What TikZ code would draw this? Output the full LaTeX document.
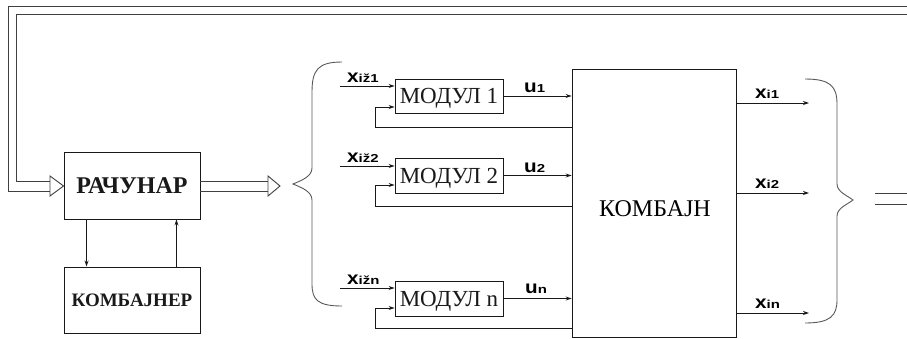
\documentclass[tikz,border=0pt]{standalone}
\usepackage{fontspec}
\setmainfont{Liberation Serif}
\newfontfamily\labfont{Liberation Sans}
\usetikzlibrary{arrows.meta}

% signal label: bold letter with a smaller, wide index on the same baseline
\newcommand\siglab[2]{{\labfont\bfseries\fontsize{18}{18}\selectfont\scalebox{1.15}[1]{#1}\scalebox{1.3}[1]{\fontsize{11.5}{11.5}\selectfont #2}}}

\begin{document}
\begin{tikzpicture}[x=1pt,y=-1pt,
  ln/.style={line width=0.9pt, black!90},
  blk/.style={draw, ln, inner sep=0pt},
  arr/.style={ln, -{Stealth[length=6pt,width=4pt]}},
  bus/.style={line width=0.9pt, draw=black!75},
  head/.style={line width=0.9pt, draw=black!75, fill=white},
  brace/.style={line width=0.9pt, draw=black!65},
  lab/.style={inner sep=0pt, anchor=base west}]

\useasboundingbox (0,0) rectangle (907,338);

% computer and combiner blocks
\node[blk, minimum width=136pt, minimum height=67pt, text height=15.9pt, text depth=0pt,
      font=\bfseries\fontsize{24}{24}\selectfont] (rac) at (132,185.5) {РАЧУНАР};
\node[blk, minimum width=136pt, minimum height=66pt, text height=12.6pt, text depth=0pt,
      font=\bfseries\fontsize{19}{19}\selectfont] (kbr) at (132,300) {КОМБАЈНЕР};

\draw[arr] ([xshift=23pt]rac.south west) -- ([xshift=23pt]kbr.north west);
\draw[arr] ([xshift=-24pt]kbr.north east) -- ([xshift=-24pt]rac.south east);

% modules
\tikzset{modblk/.style={blk, minimum width=108pt, text height=15.2pt, text depth=0pt,
      font=\fontsize{23}{23}\selectfont}}
\node[modblk, minimum height=34pt] (m1) at (449,96) {МОДУЛ 1};
\node[modblk, minimum height=35pt] (m2) at (449,175.5) {МОДУЛ 2};
\node[modblk, minimum height=35pt] (mn) at (449,298.5) {МОДУЛ n};

% combining block
\node[blk, minimum width=164pt, minimum height=268pt] (kb) at (654,203) {};
\node[inner sep=0pt, text height=15.9pt, text depth=0pt, font=\fontsize{24}{24}\selectfont]
  (kbt) at (655,209) {КОМБАЈН};

% module inputs
\coordinate (i1) at (340,86);
\coordinate (i2) at (340,166);
\coordinate (in) at (340,288);
\draw[arr] (i1) -- (i1 -| m1.west);
\draw[arr] (i2) -- (i2 -| m2.west);
\draw[arr] (in) -- (in -| mn.west);
\node[lab] (li1) at (347,82) {\siglab{x}{iž1}};
\node[lab] (li2) at (347,162) {\siglab{x}{iž2}};
\node[lab] (lin) at (347,284) {\siglab{x}{ižn}};

% feedback loops from the combining block back into each module
\coordinate (f1) at (375,127); \coordinate (g1) at (375,107);
\coordinate (f2) at (375,206); \coordinate (g2) at (375,185);
\coordinate (fn) at (375,328); \coordinate (gn) at (375,308);
\draw[arr] (f1 -| kb.west) -- (f1) -- (g1) -- (g1 -| m1.west);
\draw[arr] (f2 -| kb.west) -- (f2) -- (g2) -- (g2 -| m2.west);
\draw[arr] (fn -| kb.west) -- (fn) -- (gn) -- (gn -| mn.west);

% module outputs
\draw[arr] (m1.east) -- (m1.east -| kb.west);
\draw[arr] (m2.east) -- (m2.east -| kb.west);
\draw[arr] (mn.east) -- (mn.east -| kb.west);
\node[lab] (lu1) at (524,92) {\siglab{u}{1}};
\node[lab] (lu2) at (524,172) {\siglab{u}{2}};
\node[lab] (lun) at (525,293) {\siglab{u}{n}};

% combined outputs
\coordinate (o1) at (809,103);
\coordinate (o2) at (809,193);
\coordinate (on) at (809,313);
\draw[arr] (o1 -| kb.east) -- (o1);
\draw[arr] (o2 -| kb.east) -- (o2);
\draw[arr] (on -| kb.east) -- (on);
\node[lab] (lo1) at (755,98) {\siglab{x}{i1}};
\node[lab] (lo2) at (755,188) {\siglab{x}{i2}};
\node[lab] (lon) at (755,308) {\siglab{x}{in}};

% braces
\draw[brace] (342,62) .. controls (318,62) and (312,70) .. (312,92) -- (312,168)
  .. controls (312,177) and (300,181) .. (293,184)
  .. controls (300,187) and (312,191) .. (312,200) -- (312,284)
  .. controls (312,300) and (318,306) .. (342,306);
\draw[brace] (805,79) .. controls (830,79) and (837,86) .. (837,104) -- (837,184)
  .. controls (837,192) and (848,196) .. (853,200)
  .. controls (848,204) and (837,208) .. (837,216) -- (837,300)
  .. controls (837,316) and (830,323) .. (805,323);

% computer output bus
\coordinate (b1) at (268,186);
\draw[bus] ([yshift=5pt]rac.east |- b1) -- ([yshift=5pt]b1);
\draw[bus] ([yshift=-5pt]rac.east |- b1) -- ([yshift=-5pt]b1);
\draw[head] (268,176) -- (280,186) -- (268,196) -- cycle;

% feedback bus into the computer
\coordinate (b0) at (50,186);
\draw[bus] (907,6) -- (8,6) -- (8,191) -- (50,191);
\draw[bus] (907,14) -- (16,14) -- (16,181) -- (50,181);
\draw[head] (50,176) -- (rac.west |- b0) -- (50,196) -- cycle;

% returning bus on the right
\coordinate (r0) at (875,193);
\coordinate (r1) at (875,204);
\draw[bus] (r0) -- (907,193);
\draw[bus] (r1) -- (907,204);

\end{tikzpicture}
\end{document}
